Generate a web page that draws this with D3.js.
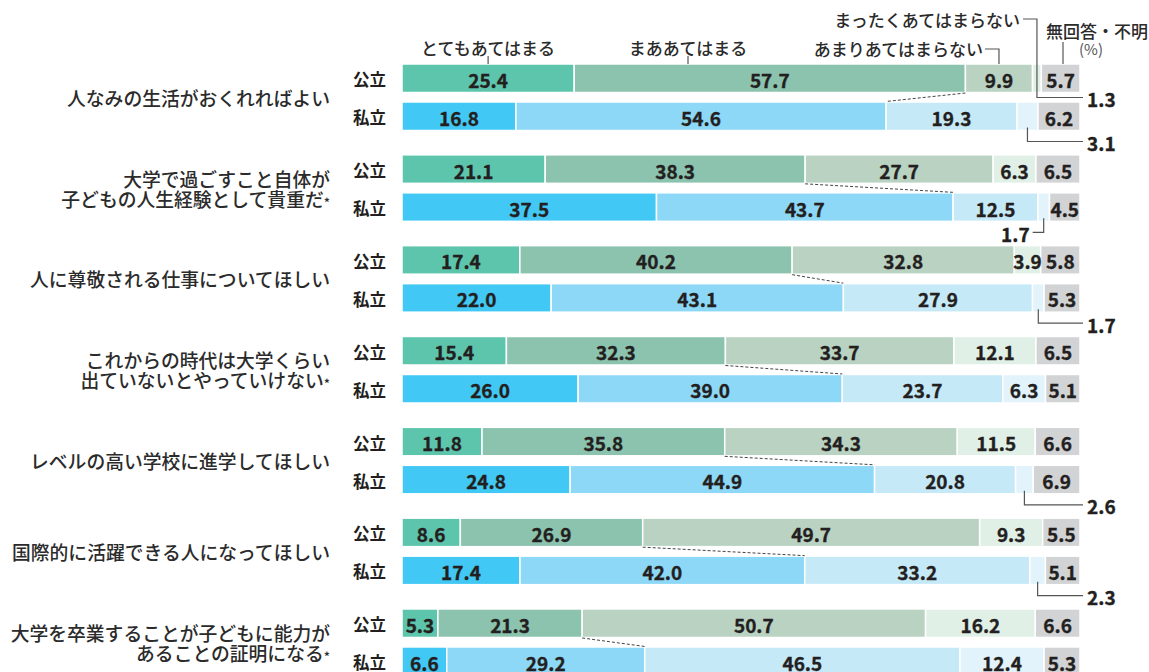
<!DOCTYPE html>
<html lang="ja">
<head>
<meta charset="utf-8">
<script src="https://cdn.jsdelivr.net/npm/d3@7"></script>
<style>
  html, body { margin: 0; padding: 0; background: #fff; }
  svg { display: block; }
  text { font-family: "Noto Sans CJK JP", "Noto Sans", sans-serif; }
</style>
</head>
<body>
<svg id="chart" width="1149" height="672"></svg>
<script>
// 設問項目（* は注記あり）
const items = [
  "人なみの生活がおくれればよい",
  "大学で過ごすこと自体が\n子どもの人生経験として貴重だ*",
  "人に尊敬される仕事についてほしい",
  "これからの時代は大学くらい\n出ていないとやっていけない*",
  "レベルの高い学校に進学してほしい",
  "国際的に活躍できる人になってほしい",
  "大学を卒業することが子どもに能力が\nあることの証明になる*"
];
const schools = ["公立", "私立"];
const responses = ["とてもあてはまる", "まああてはまる", "あまりあてはまらない", "まったくあてはまらない", "無回答・不明"];

// 公立（%）
const publicVery     = [25.4, 21.1, 17.4, 15.4, 11.8,  8.6,  5.3];
const publicSomewhat = [57.7, 38.3, 40.2, 32.3, 35.8, 26.9, 21.3];
const publicNotMuch  = [ 9.9, 27.7, 32.8, 33.7, 34.3, 49.7, 50.7];
const publicNotAtAll = [ 1.3,  6.3,  3.9, 12.1, 11.5,  9.3, 16.2];
const publicNoAnswer = [ 5.7,  6.5,  5.8,  6.5,  6.6,  5.5,  6.6];

// 私立（%）
const privateVery     = [16.8, 37.5, 22.0, 26.0, 24.8, 17.4,  6.6];
const privateSomewhat = [54.6, 43.7, 43.1, 39.0, 44.9, 42.0, 29.2];
const privateNotMuch  = [19.3, 12.5, 27.9, 23.7, 20.8, 33.2, 46.5];
const privateNotAtAll = [ 3.1,  1.7,  1.7,  6.3,  2.6,  2.3, 12.4];
const privateNoAnswer = [ 6.2,  4.5,  5.3,  5.1,  6.9,  5.1,  5.3];

const colors = {
  "公立": ["#5ec5ad", "#8bc3ae", "#b9d2c2", "#e1f0e7", "#d2d3d5"],
  "私立": ["#41c8f4", "#8dd8f7", "#c6e9f8", "#e2f3fc", "#d2d3d5"]
};

const svg = d3.select("#chart");
const textColor = "#231f20";

const x = d3.scaleLinear().domain([0, 100]).range([402, 1080]);
const yGroup = d3.scaleBand().domain(d3.range(items.length)).range([64, 64 + 90.83 * items.length]).paddingInner(0).paddingOuter(0);
const ySchool = d3.scaleBand().domain(schools).range([0, 66.5]).paddingInner(0.25).paddingOuter(0);
const barH = ySchool.bandwidth();

const seriesBySchool = {
  "公立": [publicVery, publicSomewhat, publicNotMuch, publicNotAtAll, publicNoAnswer],
  "私立": [privateVery, privateSomewhat, privateNotMuch, privateNotAtAll, privateNoAnswer]
};

// 行ごとの区間（合計を100%に正規化）
const rows = [];
items.forEach((item, i) => {
  schools.forEach(s => {
    const vals = seriesBySchool[s].map(arr => arr[i]);
    const total = d3.sum(vals);
    let acc = 0;
    const segs = vals.map((v, k) => {
      const x0 = acc / total * 100;
      acc += v;
      const x1 = acc / total * 100;
      return { k, v, x0, x1 };
    });
    rows.push({ i, s, segs, y: yGroup(i) + ySchool(s) });
  });
});

const rowSel = svg.append("g").selectAll("g").data(rows).join("g");

rowSel.selectAll("rect").data(d => d.segs.map(g => ({ ...g, s: d.s, y: d.y })))
  .join("rect")
  .attr("x", d => x(d.x0))
  .attr("y", d => d.y)
  .attr("width", d => x(d.x1) - x(d.x0))
  .attr("height", barH)
  .attr("fill", d => colors[d.s][d.k])
  .attr("stroke", "#fff")
  .attr("stroke-width", 1.5);

function numStyle(sel) {
  return sel.attr("font-size", 19)
    .attr("font-weight", 700)
    .attr("fill", textColor)
    .attr("stroke", textColor)
    .attr("stroke-width", 0.35);
}

// 区間内の数値
rowSel.selectAll("text.val").data(d => d.segs.filter(g => g.v >= 3.5).map(g => ({ ...g, y: d.y })))
  .join("text")
  .attr("class", "val")
  .attr("x", d => (x(d.x0) + x(d.x1)) / 2)
  .attr("y", d => d.y + barH / 2 + 1)
  .attr("text-anchor", "middle")
  .attr("dominant-baseline", "central")
  .call(numStyle)
  .text(d => d.v.toFixed(1));

// 公立・私立 ラベル
rowSel.append("text")
  .attr("x", 386)
  .attr("y", d => d.y + barH / 2 + 1)
  .attr("text-anchor", "end")
  .attr("dominant-baseline", "central")
  .attr("font-size", 16.5)
  .attr("font-weight", 700)
  .attr("fill", textColor)
  .text(d => d.s);

// 肯定（とても＋まあ）の境界を結ぶ点線
items.forEach((item, i) => {
  const pub = rows.find(r => r.i === i && r.s === "公立");
  const pri = rows.find(r => r.i === i && r.s === "私立");
  svg.append("line")
    .attr("x1", x(pub.segs[1].x1)).attr("y1", pub.y + barH + 0.5)
    .attr("x2", x(pri.segs[1].x1)).attr("y2", pri.y - 0.5)
    .attr("stroke", "#444").attr("stroke-width", 1)
    .attr("stroke-dasharray", "3,2");
});

// 設問ラベル
const itemG = svg.append("g");
items.forEach((item, i) => {
  const lines = item.split("\n");
  const cy = yGroup(i) + 33;
  const lh = 19.5;
  lines.forEach((ln, j) => {
    const t = itemG.append("text")
      .attr("x", 330)
      .attr("y", cy + (j - (lines.length - 1) / 2) * lh)
      .attr("text-anchor", "end")
      .attr("dominant-baseline", "central")
      .attr("font-size", 18.8)
      .attr("font-weight", 500)
      .attr("fill", "#2b2b2b");
    if (ln.endsWith("*")) {
      t.append("tspan").text(ln.slice(0, -1));
      t.append("tspan").attr("font-size", 13).attr("dy", 4).text("*");
    } else {
      t.text(ln);
    }
  });
});

// 小さい値の引き出し線
const lineColor = "#555";
const calloutG = svg.append("g");
const calloutLeft = new Set([1]);
rows.filter(r => r.s === "私立").forEach(r => {
  const g = r.segs[3];
  if (g.v >= 3.5) return;
  const cx = (x(g.x0) + x(g.x1)) / 2;
  const yTop = r.y + barH - 3;
  const yBot = r.y + barH + 11;
  const left = calloutLeft.has(r.i);
  const xEnd = left ? cx - 11 : 1083;
  calloutG.append("path")
    .attr("d", `M${cx},${yTop}V${yBot}H${xEnd}`)
    .attr("fill", "none").attr("stroke", lineColor).attr("stroke-width", 1.2);
  calloutG.append("text")
    .attr("x", left ? xEnd - 3 : xEnd + 4)
    .attr("y", yBot + 1)
    .attr("text-anchor", left ? "end" : "start")
    .attr("dominant-baseline", "central")
    .call(numStyle)
    .text(g.v.toFixed(1));
});

// 凡例（先頭行の区間へ引き出し）
const head = rows[0];
const legendG = svg.append("g");
const legFont = 17;
function legendText(txt, xx, yy, anchor) {
  legendG.append("text")
    .attr("x", xx).attr("y", yy)
    .attr("text-anchor", anchor)
    .attr("dominant-baseline", "central")
    .attr("font-size", legFont).attr("font-weight", 500).attr("fill", "#2b2b2b")
    .text(txt);
}
function legendPath(d) {
  legendG.append("path").attr("d", d)
    .attr("fill", "none").attr("stroke", lineColor).attr("stroke-width", 1.2);
}
const segC = k => (x(head.segs[k].x0) + x(head.segs[k].x1)) / 2;

legendText(responses[0], segC(0), 47, "middle");
legendPath(`M${segC(0)},56V${head.y}`);

legendText(responses[1], 688, 47, "middle");
legendPath(`M688,56V${head.y}`);

legendText(responses[2], 983, 48, "end");
legendPath(`M985,49H${segC(2)}V${head.y}`);

// まったくあてはまらない：先頭行の値 1.3 へ続く線
const c3 = segC(3);
legendText(responses[3], 1020, 19, "end");
const yCall = head.y + barH + 5;
legendPath(`M1023,19H${c3}V${yCall}H1083`);
legendG.append("text")
  .attr("x", 1087).attr("y", yCall + 1)
  .attr("dominant-baseline", "central")
  .call(numStyle)
  .text(head.segs[3].v.toFixed(1));

legendText(responses[4], 1046, 30, "start");
legendPath(`M1063,42V${head.y}`);

legendG.append("text")
  .attr("x", 1091).attr("y", 48)
  .attr("text-anchor", "middle")
  .attr("dominant-baseline", "central")
  .attr("font-size", 15).attr("fill", "#555")
  .text("(%)");
</script>
</body>
</html>
